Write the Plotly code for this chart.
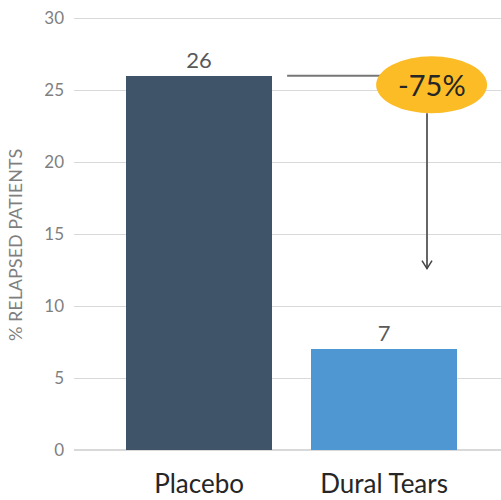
import plotly.graph_objects as go

categories = ["Placebo", "Dural Tears"]
values = [26, 7]
value_labels = ["26", "7"]
bar_colors = ["#3F5469", "#4F97D3"]
reduction_label = "-75%"
y_ticks = [0, 5, 10, 15, 20, 25, 30]
y_title = "% RELAPSED PATIENTS"

FONT = "Lato, 'Open Sans', sans-serif"

fig = go.Figure()
fig.add_trace(go.Bar(
    x=categories, y=values, marker=dict(color=bar_colors, line=dict(width=0)),
    width=0.79, text=value_labels, textposition="outside",
    textfont=dict(size=22, color="#595959", family=FONT), cliponaxis=False,
))

ell_x0, ell_x1 = 0.957, 1.557
ell_y0, ell_y1 = 23.4, 27.36
arrow_x = 1.232
arrow_tip = 12.6

fig.add_shape(type="line", xref="x", yref="y", x0=0.476, x1=ell_x0 + 0.03,
              y0=values[0], y1=values[0], line=dict(color="#767676", width=2))
fig.add_shape(type="circle", xref="x", yref="y", x0=ell_x0, x1=ell_x1,
              y0=ell_y0, y1=ell_y1, fillcolor="#FBBC26", line=dict(width=0), layer="above")
fig.add_shape(type="line", xref="x", yref="y", x0=arrow_x, x1=arrow_x,
              y0=ell_y0, y1=arrow_tip, line=dict(color="#666666", width=2))
fig.add_shape(type="path", xref="x", yref="y", xsizemode="pixel", ysizemode="pixel",
              xanchor=arrow_x, yanchor=arrow_tip, path="M-5,8 L0,0 L5,8",
              line=dict(color="#444444", width=1.5))
fig.add_annotation(x=(ell_x0 + ell_x1) / 2, y=(ell_y0 + ell_y1) / 2, xref="x", yref="y",
                   text=reduction_label, showarrow=False,
                   font=dict(size=29, color="#262626", family=FONT))
fig.add_annotation(xref="paper", yref="paper", x=0, y=0.47, xshift=-59,
                   xanchor="center", yanchor="middle",
                   text=y_title, textangle=-90, showarrow=False,
                   font=dict(size=18, color="#7F7F7F", family=FONT))

fig.update_layout(
    width=501, height=500, margin=dict(l=74, r=0, t=14, b=50),
    paper_bgcolor="white", plot_bgcolor="white", showlegend=False,
    bargap=0,
    xaxis=dict(range=[-0.676, 1.632], showgrid=False, showline=False, zeroline=False,
               ticks="", ticklabelstandoff=16,
               tickfont=dict(size=26, color="#262626", family=FONT)),
    yaxis=dict(range=[0, 30.3], tickvals=y_ticks, showgrid=True, gridcolor="#D9D9D9",
               gridwidth=1, zeroline=True, zerolinecolor="#D9D9D9", showline=False,
               ticks="", ticklabelstandoff=9, ticklabeloverflow="allow",
               tickfont=dict(size=17, color="#7F7F7F", family=FONT)),
)
fig.write_html("out.html", config={"displayModeBar": False},
               post_script="document.body.style.margin='0';document.body.style.overflow='hidden';")
